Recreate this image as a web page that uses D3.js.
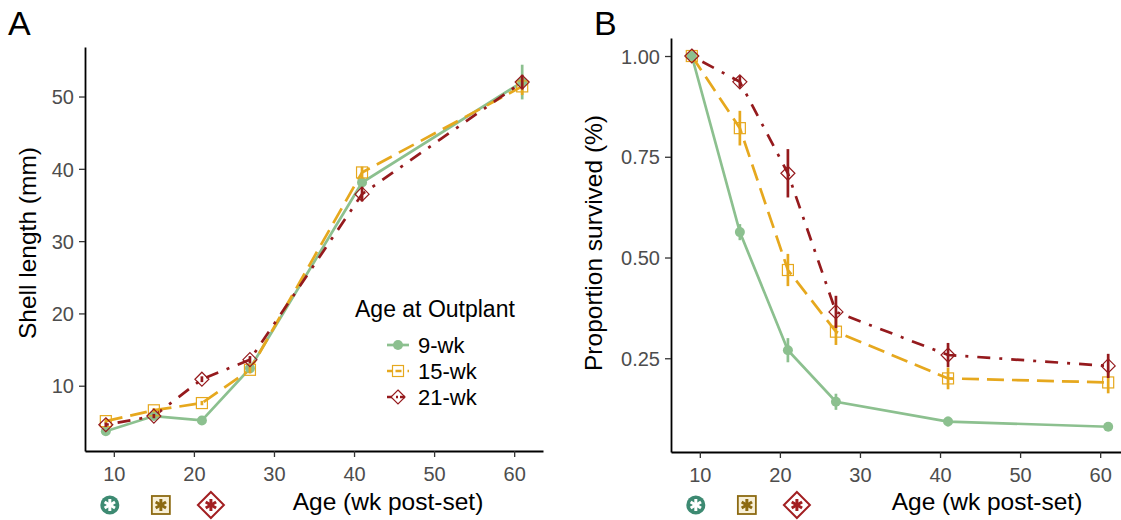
<!DOCTYPE html>
<html>
<head>
<meta charset="utf-8">
<script src="https://cdn.jsdelivr.net/npm/d3@7"></script>
<style>
  body { margin: 0; background: #fff; }
  svg { font-family: "Liberation Sans", Arial, sans-serif; }
</style>
</head>
<body>
<svg id="chart" width="1121" height="520"></svg>
<script>
// ages sampled (wk post-set)
const ages = [9, 15, 21, 27, 41, 61];
const groups = ["9-wk", "15-wk", "21-wk"];

// panel A: shell length (mm)
const len9 = [3.7, 5.8, 5.2, 12.4, 38.1, 52.0];
const len15 = [5.1, 6.6, 7.6, 12.2, 39.5, 51.4];
const len21 = [4.6, 5.8, 10.9, 13.6, 36.5, 52.0];
const lenErr9 = [0.3, 0.3, 0.3, 0.5, 0.6, 2.4];
const lenErr15 = [0.3, 0.3, 0.3, 0.5, 0.8, 1.2];
const lenErr21 = [0.3, 0.3, 0.4, 0.5, 1.0, 1.0];

// panel B: proportion survived
const surv9 = [1.0, 0.563, 0.270, 0.142, 0.093, 0.080];
const surv15 = [1.0, 0.821, 0.469, 0.316, 0.200, 0.190];
const surv21 = [1.0, 0.936, 0.709, 0.365, 0.258, 0.231];
const survErr9 = [0, 0.02, 0.03, 0.02, 0.012, 0.01];
const survErr15 = [0, 0.043, 0.04, 0.033, 0.027, 0.027];
const survErr21 = [0, 0.015, 0.06, 0.04, 0.03, 0.03];

const xTicks = [10, 20, 30, 40, 50, 60];
const yTicksA = [10, 20, 30, 40, 50];
const yTicksB = [0.25, 0.5, 0.75, 1.0];

const colors = ["#8cc08f", "#e6a81e", "#951a1d"];
const dashes = [null, "17,8", "3,9,13,9"];
const shapes = ["circle", "square", "diamond"];

const svg = d3.select("#chart");

function marker(g, shape, color, cx, cy) {
  if (shape == "circle") {
    g.append("circle").attr("cx", cx).attr("cy", cy).attr("r", 5).attr("fill", color);
  } else if (shape == "square") {
    g.append("rect").attr("x", cx - 5.5).attr("y", cy - 5.5).attr("width", 11).attr("height", 11)
      .attr("fill", "none").attr("stroke", color).attr("stroke-width", 1.2);
  } else {
    g.append("path").attr("d", `M${cx},${cy - 7}L${cx + 7},${cy}L${cx},${cy + 7}L${cx - 7},${cy}Z`)
      .attr("fill", "none").attr("stroke", color).attr("stroke-width", 1.2);
  }
}

function panel(opts) {
  const x = d3.scaleLinear().domain([6.4, 63.6]).range(opts.xr);
  const y = d3.scaleLinear().domain(opts.yd).range(opts.yr);
  const g = svg.append("g");

  const xAxis = g.append("g").attr("transform", `translate(0,${opts.yr[0]})`)
    .call(d3.axisBottom(x).tickValues(xTicks).tickSize(6).tickSizeOuter(0).tickPadding(6));
  const yAxis = g.append("g").attr("transform", `translate(${opts.xr[0]},0)`)
    .call(d3.axisLeft(y).tickValues(opts.yTicks).tickFormat(opts.fmt).tickSize(6).tickSizeOuter(0).tickPadding(5));
  [xAxis, yAxis].forEach(a => {
    a.select(".domain").attr("stroke", "#000").attr("stroke-width", 1.8);
    a.selectAll(".tick line").attr("stroke", "#333").attr("stroke-width", 1.3);
    a.selectAll(".tick text").attr("fill", "#4d4d4d").style("font-size", "20px");
  });
  xAxis.selectAll(".tick text").attr("dy", "0.9em");
  yAxis.selectAll(".tick text").attr("dy", "0.36em");

  const line = d3.line().x(d => x(d[0])).y(d => y(d[1]));

  opts.series.forEach((s, k) => {
    const pts = ages.map((a, i) => [a, s[i]]);
    g.append("path").datum(pts).attr("d", line)
      .attr("fill", "none").attr("stroke", colors[k]).attr("stroke-width", 2.7)
      .attr("stroke-dasharray", dashes[k]);
  });
  opts.series.forEach((s, k) => {
    ages.forEach((a, i) => {
      const e = opts.errs[k][i];
      if (e > 0) {
        g.append("line").attr("x1", x(a)).attr("x2", x(a))
          .attr("y1", y(s[i] - e)).attr("y2", y(s[i] + e))
          .attr("stroke", colors[k]).attr("stroke-width", 2.7);
      }
      marker(g, shapes[k], colors[k], x(a), y(s[i]));
    });
  });

  // panel letter
  svg.append("text").attr("x", opts.letterX).attr("y", 35).text(opts.letter)
    .style("font-size", "34px").attr("fill", "#000");

  // axis titles
  svg.append("text").attr("transform", `translate(${opts.yTitleX},243) rotate(-90)`)
    .attr("text-anchor", "middle").style("font-size", "24.5px").text(opts.yTitle);
  svg.append("text").attr("x", opts.xTitleX).attr("y", 510)
    .attr("text-anchor", "middle").style("font-size", "24.5px").text("Age (wk post-set)");

  // group symbols under the axis
  const sy = 505;
  const c0 = x(9) + 4, c1 = x(15) + 7, c2 = x(21) + 9;
  svg.append("circle").attr("cx", c0).attr("cy", sy).attr("r", 9.5).attr("fill", "#3d8a72");
  svg.append("rect").attr("x", c1 - 9).attr("y", sy - 9).attr("width", 18).attr("height", 18)
    .attr("fill", "#f8f0d8").attr("stroke", "#8c6a12").attr("stroke-width", 1.8);
  svg.append("path").attr("d", `M${c2},${sy - 13}L${c2 + 13},${sy}L${c2},${sy + 13}L${c2 - 13},${sy}Z`)
    .attr("fill", "#fff").attr("stroke", "#a21f22").attr("stroke-width", 2);
  [[c0, "#fff"], [c1, "#8c6a12"], [c2, "#a21f22"]].forEach(([cx, col]) => {
    for (let j = 0; j < 3; j++) {
      const ang = Math.PI / 2 + j * Math.PI / 3;
      const r = 6;
      svg.append("line")
        .attr("x1", cx - r * Math.cos(ang)).attr("y1", sy - r * Math.sin(ang))
        .attr("x2", cx + r * Math.cos(ang)).attr("y2", sy + r * Math.sin(ang))
        .attr("stroke", col).attr("stroke-width", 3);
    }
  });
}

panel({
  xr: [85, 543], yr: [451, 47], yd: [0.97, 56.85],
  yTicks: yTicksA, fmt: d3.format("d"),
  series: [len9, len15, len21], errs: [lenErr9, lenErr15, lenErr21],
  letter: "A", letterX: 8, yTitle: "Shell length (mm)", yTitleX: 36, xTitleX: 388
});

panel({
  xr: [671, 1129], yr: [452, 38], yd: [0.0174, 1.0447],
  yTicks: yTicksB, fmt: d3.format(".2f"),
  series: [surv9, surv15, surv21], errs: [survErr9, survErr15, survErr21],
  letter: "B", letterX: 594, yTitle: "Proportion survived (%)", yTitleX: 602, xTitleX: 987
});

// legend in panel A
const leg = svg.append("g");
leg.append("text").attr("x", 355).attr("y", 317).style("font-size", "23px").text("Age at Outplant");
groups.forEach((name, k) => {
  const cy = 345 + k * 26;
  leg.append("line").attr("x1", 387).attr("x2", 409).attr("y1", cy).attr("y2", cy)
    .attr("stroke", colors[k]).attr("stroke-width", 2.7)
    .attr("stroke-dasharray", k == 0 ? null : (k == 1 ? "6,2.5,6" : "5,4,2,2"));
  marker(leg, shapes[k], colors[k], 398, cy);
  leg.append("text").attr("x", 418).attr("y", cy).attr("dy", "0.36em")
    .style("font-size", "22px").text(name);
});
</script>
</body>
</html>
